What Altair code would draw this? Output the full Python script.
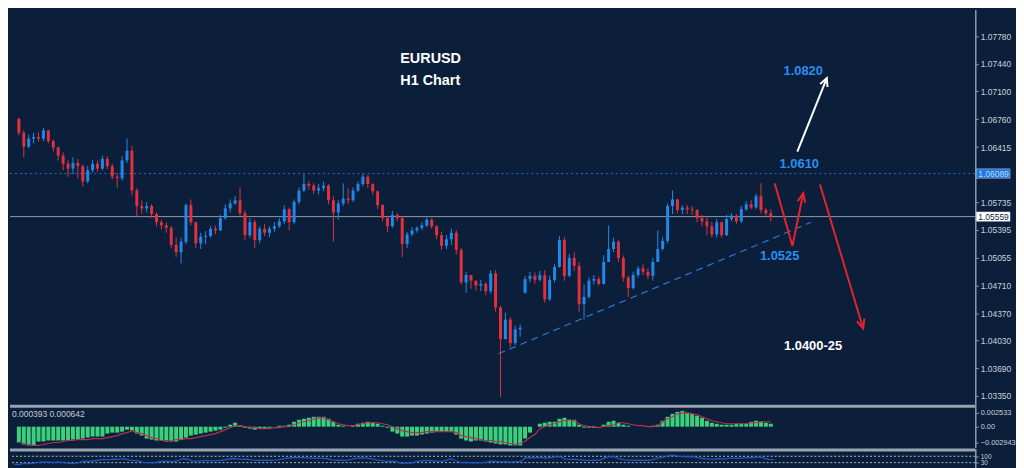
import altair as alt
import pandas as pd

# ---------------- data (EURUSD H1) ----------------
first_open = 1.0718
gap_opens = {105: 1.0462}

closes = [
    1.0692, 1.0676, 1.0659, 1.0642, 1.0652, 1.0654, 1.0652, 1.0662, 1.0649, 1.0641,
    1.0631, 1.0621, 1.0615, 1.0622, 1.0618, 1.0599, 1.0613, 1.0621, 1.0615, 1.0627,
    1.0618, 1.0605, 1.0603, 1.0625, 1.0637, 1.0588, 1.0569, 1.0566, 1.0569, 1.0559,
    1.0549, 1.0545, 1.0542, 1.0521, 1.0512, 1.0525, 1.0570, 1.0549, 1.0523, 1.0531,
    1.0532, 1.0541, 1.0539, 1.0554, 1.0566, 1.0572, 1.0576, 1.0560, 1.0533, 1.0549,
    1.0527, 1.0541, 1.0536, 1.0541, 1.0544, 1.0550, 1.0565, 1.0549, 1.0574, 1.0588,
    1.0596, 1.0594, 1.0588, 1.0591, 1.0594, 1.0576, 1.0561, 1.0572, 1.0578, 1.0576,
    1.0588, 1.0596, 1.0605, 1.0596, 1.0587, 1.0570, 1.0554, 1.0544, 1.0558, 1.0554,
    1.0522, 1.0534, 1.0539, 1.0542, 1.0545, 1.0552, 1.0544, 1.0533, 1.0520, 1.0528,
    1.0536, 1.0515, 1.0475, 1.0484, 1.0477, 1.0471, 1.0473, 1.0464, 1.0486, 1.0444,
    1.0405, 1.0429, 1.0400, 1.0417, 1.0419, 1.0479, 1.0483, 1.0478, 1.0484, 1.0454,
    1.0478, 1.0494, 1.0527, 1.0483, 1.0505, 1.0495, 1.0448, 1.0457, 1.0477, 1.0479,
    1.0473, 1.0500, 1.0516, 1.0525, 1.0505, 1.0481, 1.0468, 1.0484, 1.0492, 1.0488,
    1.0483, 1.0500, 1.0516, 1.0526, 1.0569, 1.0577, 1.0564, 1.0567, 1.0565, 1.0564,
    1.0554, 1.0550, 1.0544, 1.0534, 1.0549, 1.0533, 1.0553, 1.0557, 1.0550, 1.0565,
    1.0571, 1.0567, 1.0581, 1.0564, 1.0560, 1.05559,
]
highs = [
    1.0723, 1.0695, 1.0678, 1.0662, 1.0657, 1.0659, 1.0660, 1.0665, 1.0662, 1.0651,
    1.0642, 1.0635, 1.0625, 1.0629, 1.0627, 1.0620, 1.0618, 1.0626, 1.0625, 1.0631,
    1.0630, 1.0621, 1.0610, 1.0630, 1.0652, 1.0643, 1.0591, 1.0576, 1.0574, 1.0571,
    1.0561, 1.0552, 1.0549, 1.0544, 1.0530, 1.0530, 1.0572, 1.0577, 1.0549, 1.0536,
    1.0538, 1.0544, 1.0545, 1.0558, 1.0571, 1.0577, 1.0581, 1.0592, 1.0564, 1.0554,
    1.0552, 1.0544, 1.0547, 1.0544, 1.0549, 1.0554, 1.0570, 1.0567, 1.0577, 1.0592,
    1.0608, 1.0600, 1.0597, 1.0596, 1.0599, 1.0596, 1.0581, 1.0576, 1.0597, 1.0591,
    1.0592, 1.0599, 1.0609, 1.0607, 1.0597, 1.0588, 1.0571, 1.0557, 1.0563, 1.0560,
    1.0557, 1.0537, 1.0543, 1.0544, 1.0549, 1.0557, 1.0554, 1.0545, 1.0537, 1.0533,
    1.0541, 1.0539, 1.0517, 1.0488, 1.0484, 1.0477, 1.0478, 1.0475, 1.0490, 1.0490,
    1.0446, 1.0438, 1.0432, 1.0422, 1.0423, 1.0483, 1.0488, 1.0487, 1.0489, 1.0490,
    1.0483, 1.0498, 1.0532, 1.0531, 1.0510, 1.0512, 1.0500, 1.0472, 1.0481, 1.0484,
    1.0482, 1.0508, 1.0545, 1.0530, 1.0527, 1.0508, 1.0483, 1.0488, 1.0495, 1.0497,
    1.0492, 1.0505, 1.0539, 1.0531, 1.0572, 1.0588, 1.0578, 1.0570, 1.0570, 1.0569,
    1.0565, 1.0558, 1.0555, 1.0549, 1.0553, 1.0550, 1.0558, 1.0560, 1.0559, 1.0569,
    1.0575, 1.0576, 1.0584, 1.0597, 1.0567, 1.0565,
]
lows = [
    1.0689, 1.0671, 1.0656, 1.0629, 1.0640, 1.0646, 1.0648, 1.0649, 1.0646, 1.0636,
    1.0625, 1.0613, 1.0605, 1.0608, 1.0603, 1.0593, 1.0597, 1.0610, 1.0611, 1.0613,
    1.0614, 1.0602, 1.0591, 1.0600, 1.0622, 1.0582, 1.0555, 1.0559, 1.0561, 1.0554,
    1.0544, 1.0540, 1.0536, 1.0517, 1.0506, 1.0498, 1.0522, 1.0545, 1.0517, 1.0516,
    1.0522, 1.0530, 1.0534, 1.0538, 1.0552, 1.0561, 1.0570, 1.0557, 1.0527, 1.0530,
    1.0517, 1.0523, 1.0532, 1.0531, 1.0537, 1.0542, 1.0547, 1.0539, 1.0547, 1.0571,
    1.0586, 1.0589, 1.0584, 1.0583, 1.0587, 1.0571, 1.0525, 1.0552, 1.0569, 1.0571,
    1.0574, 1.0586, 1.0593, 1.0591, 1.0583, 1.0565, 1.0550, 1.0537, 1.0542, 1.0550,
    1.0506, 1.0517, 1.0532, 1.0536, 1.0539, 1.0543, 1.0541, 1.0528, 1.0515, 1.0516,
    1.0521, 1.0509, 1.0472, 1.0462, 1.0467, 1.0465, 1.0464, 1.0459, 1.0461, 1.0439,
    1.0334, 1.0405, 1.0395, 1.0398, 1.0408, 1.0461, 1.0475, 1.0473, 1.0476, 1.0450,
    1.0452, 1.0475, 1.0493, 1.0477, 1.0481, 1.0489, 1.0439, 1.0429, 1.0455, 1.0472,
    1.0471, 1.0472, 1.0500, 1.0512, 1.0500, 1.0476, 1.0457, 1.0466, 1.0481, 1.0484,
    1.0479, 1.0477, 1.0500, 1.0514, 1.0523, 1.0559, 1.0560, 1.0559, 1.0559, 1.0558,
    1.0549, 1.0544, 1.0533, 1.0530, 1.0530, 1.0530, 1.0532, 1.0550, 1.0547, 1.0548,
    1.0563, 1.0565, 1.0565, 1.0560, 1.0557, 1.0550,
]

# MACD (in points, 1 point = 0.00001)
macd_main_pts = [
    -216, -234, -288, -324, -342, -342, -270, -270, -252, -252,
    -252, -252, -252, -234, -234, -216, -198, -180, -180, -180,
    -126, -108, -108, -90, -54, -72, -126, -162, -216, -234,
    -252, -252, -270, -270, -270, -234, -198, -162, -144, -126,
    -108, -90, -72, -54, -18, 36, 72, 18, -18, -36,
    -54, -36, -36, -18, 0, 18, 18, 36, 90, 126,
    144, 162, 180, 180, 180, 144, 90, 36, 18, 0,
    18, 54, 72, 90, 72, 54, 18, -18, -90, -126,
    -180, -180, -162, -162, -144, -126, -108, -90, -90, -90,
    -90, -144, -216, -252, -270, -252, -252, -270, -288, -306,
    -324, -324, -342, -342, -342, -216, -108, 0, 54, 72,
    90, 90, 144, 162, 126, 126, 36, -18, -18, -18,
    0, 36, 90, 108, 72, 36, 18, 0, 0, 0,
    0, 18, 36, 108, 180, 234, 270, 288, 252, 234,
    198, 162, 108, 72, 54, 36, 36, 36, 54, 54,
    54, 90, 108, 90, 72, 54,
]
macd_signal_pts = [
    -198, -234, -270, -306, -324, -342, -342, -324, -306, -288,
    -288, -270, -252, -252, -234, -234, -234, -216, -216, -216,
    -198, -180, -162, -126, -108, -72, -108, -126, -162, -198,
    -216, -252, -252, -252, -234, -234, -216, -216, -198, -180,
    -162, -144, -126, -90, -54, -18, 18, 18, 0, -18,
    -18, -36, -36, -36, -18, -18, 0, 0, 36, 72,
    90, 108, 144, 162, 162, 126, 90, 54, 36, 18,
    18, 36, 54, 72, 72, 72, 54, 36, 0, -36,
    -72, -90, -108, -108, -108, -90, -90, -90, -90, -90,
    -90, -108, -162, -180, -198, -216, -234, -252, -252, -270,
    -270, -288, -306, -324, -306, -270, -198, -144, -36, 0,
    36, 54, 90, 108, 126, 108, 54, 18, 0, 0,
    -18, 0, 18, 36, 72, 72, 54, 36, 18, 18,
    0, 0, 18, 90, 144, 180, 234, 252, 252, 234,
    216, 180, 144, 108, 90, 72, 54, 54, 54, 54,
    54, 72, 72, 90, 90, 90,
]
rsi_values = [
    19, 18, 20, 17, 26, 24, 27, 32, 35, 33,
    31, 34, 30, 27, 24, 30, 40, 38, 42, 45,
    50, 48, 52, 51, 55, 47, 44, 42, 32, 30,
    28, 34, 40, 38, 36, 42, 56, 50, 40, 41,
    42, 44, 41, 43, 45, 50, 56, 54, 50, 52,
    46, 44, 46, 45, 44, 47, 52, 58, 62, 64,
    62, 60, 58, 59, 57, 56, 48, 45, 46, 44,
    50, 58, 60, 58, 55, 48, 42, 38, 40, 38,
    26, 28, 27, 36, 42, 44, 42, 40, 38, 44,
    55, 42, 30, 31, 30, 29, 30, 32, 40, 38,
    35, 36, 33, 36, 37, 60, 62, 60, 63, 58,
    62, 66, 68, 52, 50, 51, 48, 45, 44, 45,
    46, 60, 68, 66, 54, 48, 46, 45, 46, 44,
    45, 52, 62, 66, 75, 76, 70, 68, 67, 66,
    58, 55, 52, 50, 56, 52, 58, 58, 57, 60,
    62, 62, 66, 58, 50, 49,
]

price_ticks = [1.07780, 1.07440, 1.07100, 1.06760, 1.06415, 1.05735, 1.05395,
               1.05055, 1.04710, 1.04370, 1.04030, 1.03690, 1.03350]
resistance_level = 1.06089
last_price = 1.05559
macd_ticks = [253.3, 0, -294.3]
macd_readout = "0.000393 0.000642"
rsi_levels = [70, 30]

trend_i = [99.6, 163.2]
trend_p = [1.0387, 1.0549]

title_lines = ["EURUSD", "H1 Chart"]
title_i = [79.6, 79.6]
title_p = [1.0750, 1.0723]

blue_labels = ["1.0820", "1.0610", "1.0525"]
blue_i = [161.6, 160.8, 156.8]
blue_p = [1.0735, 1.0621, 1.0507]
white_label = ["1.0400-25"]
white_i = [163.6]
white_p = [1.0397]

white_arrow = {"seg": ["s", "s", "h", "h", "h"], "i": [160.4, 166.4, 165.06, 166.4, 166.54],
               "p": [1.06359, 1.07264, 1.07192, 1.07264, 1.07155]}
red_arrows = {"seg": ["v", "v", "v", "vh", "vh", "vh", "l", "l", "lh", "lh", "lh"],
              "i": [155.8, 159.4, 161.6, 160.46, 161.6, 162.02, 165.0, 173.8, 172.52, 173.8, 174.04],
              "p": [1.05968, 1.05197, 1.05846, 1.05748, 1.05846, 1.05728, 1.05956, 1.04182,
                    1.04273, 1.04182, 1.04302]}

# ---------------- frames ----------------
n = len(closes)
opens = [first_open] + closes[:-1]
for k, v in gap_opens.items():
    opens[k] = v
candles = pd.DataFrame({"i": list(range(n)), "open": opens, "high": highs,
                        "low": lows, "close": closes})
candles["dir"] = ["up" if c >= o else "down" for o, c in zip(opens, closes)]
ind = pd.DataFrame({"i": list(range(n)), "main": macd_main_pts,
                    "signal": macd_signal_pts, "rsi": rsi_values})

BG = "#0b1f3a"
W = 972
X_DOM = [1.2, 1.2 + W / 5]
FIRST_VISIBLE = "datum.i >= 2"   # bars left of the window are not drawn
XS = alt.Scale(domain=X_DOM, nice=False, zero=False)
PS = alt.Scale(domain=[1.03241, 1.08108], nice=False, zero=False)
MS = alt.Scale(domain=[-380, 398], nice=False, zero=False)
RS = alt.Scale(domain=[0, 118.75], nice=False, zero=False)
FONT = "Liberation Sans"
SEP = "#98a3b1"

PAX = alt.Axis(orient="right", values=price_ticks, format=".5f", title=None,
               grid=False, labelOverlap=False, labelFontSize=8.5)
MAX = alt.Axis(orient="right", values=macd_ticks, title=None, grid=False,
               labelOverlap=False, labelFontSize=7.4,
               labelExpr="datum.value == 0 ? '0.00' : format(datum.value / 100000, '.6f')")
RAX = alt.Axis(orient="right", values=rsi_levels, title=None, grid=False,
               labelOverlap=False, labelFontSize=6.5,
               labelExpr="datum.value == 70 ? '100' : '30'")


def xq(field="i"):
    return alt.X(f"{field}:Q", scale=XS, axis=None)


def py(field):
    return alt.Y(f"{field}:Q", scale=PS, axis=PAX, title=None)


def my(field):
    return alt.Y(f"{field}:Q", scale=MS, axis=MAX, title=None)


def ry(field):
    return alt.Y(f"{field}:Q", scale=RS, axis=RAX, title=None)


one = pd.DataFrame({"a": [0]})

# ---------------- price panel ----------------
cscale = alt.Scale(domain=["up", "down"], range=["#2287e8", "#e2303f"])
base = alt.Chart(candles).transform_filter(FIRST_VISIBLE)
wicks = base.mark_rule(strokeWidth=1).encode(
    x=xq(), y=py("low"), y2="high:Q",
    color=alt.Color("dir:N", scale=cscale, legend=None),
)
bodies = base.mark_bar(size=3).encode(
    x=xq(), y=py("open"), y2="close:Q",
    color=alt.Color("dir:N", scale=cscale, legend=None),
)
res_rule = alt.Chart(pd.DataFrame({"p": [resistance_level]})).mark_rule(
    color="#2c6cc0", strokeDash=[2, 3], strokeWidth=1).encode(y=py("p"))
last_rule = alt.Chart(pd.DataFrame({"p": [last_price]})).mark_rule(
    color="#8f99a6", strokeWidth=1).encode(y=py("p"))
trend = alt.Chart(pd.DataFrame({"i": trend_i, "p": trend_p})).mark_line(
    color="#2a78d6", strokeDash=[7, 5], strokeWidth=1.2).encode(x=xq(), y=py("p"))

wa = alt.Chart(pd.DataFrame(white_arrow).reset_index()).mark_line(
    color="#ffffff", strokeWidth=2).encode(
    x=xq(), y=py("p"), detail="seg:N", order="index:Q")
ra = alt.Chart(pd.DataFrame(red_arrows).reset_index()).mark_line(
    color="#e3232f", strokeWidth=2).encode(
    x=xq(), y=py("p"), detail="seg:N", order="index:Q")

titles = alt.Chart(pd.DataFrame({"t": title_lines, "i": title_i, "p": title_p})).mark_text(
    color="#ffffff", font=FONT, fontWeight="bold", fontSize=14.5, align="left",
    baseline="middle").encode(x=xq(), y=py("p"), text="t:N")
blue_txt = alt.Chart(pd.DataFrame({"t": blue_labels, "i": blue_i, "p": blue_p})).mark_text(
    color="#2a8ef0", font=FONT, fontWeight="bold", fontSize=13, align="center",
    baseline="middle").encode(x=xq(), y=py("p"), text="t:N")
white_txt = alt.Chart(pd.DataFrame({"t": white_label, "i": white_i, "p": white_p})).mark_text(
    color="#ffffff", font=FONT, fontWeight="bold", fontSize=13, align="center",
    baseline="middle").encode(x=xq(), y=py("p"), text="t:N")

tags = pd.DataFrame({
    "p": [resistance_level, last_price],
    "lo": [resistance_level - 0.00058, last_price - 0.00058],
    "hi": [resistance_level + 0.00058, last_price + 0.00058],
    "t": [f"{resistance_level:.5f}", f"{last_price:.5f}"],
    "bg": ["#1f78dc", "#ffffff"],
    "fg": ["#bcd9ff", "#0b1f3a"],
})
tag_box = alt.Chart(tags).mark_rect().encode(
    x=alt.value(W + 1), x2=alt.value(W + 35),
    y=py("lo"), y2="hi:Q",
    fill=alt.Fill("bg:N", scale=None), stroke=alt.value("#c8d0da"),
    strokeWidth=alt.value(0.5))
tag_txt = alt.Chart(tags).mark_text(font=FONT, fontSize=8.5, align="left",
                                    baseline="middle").encode(
    x=alt.value(W + 3), y=py("p"), text="t:N",
    color=alt.Color("fg:N", scale=None))

price = alt.layer(res_rule, last_rule, trend, wicks, bodies, wa, ra, titles,
                  blue_txt, white_txt, tag_box, tag_txt).properties(width=W, height=398)

# ---------------- MACD panel ----------------
ib = alt.Chart(ind).transform_filter(FIRST_VISIBLE)
hist = ib.mark_bar(size=4, color="#3bd07c").encode(
    x=xq(), y=my("main"), y2=alt.datum(0))
sig = ib.mark_line(color="#b53352", strokeWidth=1.2).encode(x=xq(), y=my("signal"))
sep2 = alt.Chart(one).mark_rule(color=SEP, strokeWidth=3).encode(
    x=alt.value(0), x2=alt.value(W), y=alt.value(1.5))
readout = alt.Chart(pd.DataFrame({"t": [macd_readout]})).mark_text(
    color="#c3cad4", font=FONT, fontSize=8.5, align="left", baseline="middle").encode(
    x=alt.value(2), y=alt.value(9), text="t:N")
macd = alt.layer(hist, sig, sep2, readout).properties(width=W, height=43)

# ---------------- RSI panel ----------------
lvl = alt.Chart(pd.DataFrame({"v": rsi_levels})).mark_rule(
    color="#aab3bf", strokeDash=[2, 2], strokeWidth=1).encode(y=ry("v"))
rsi_line = ib.mark_line(color="#1e55c8", strokeWidth=1.3).encode(x=xq(), y=ry("rsi"))
sep3 = alt.Chart(one).mark_rule(color=SEP, strokeWidth=3).encode(
    x=alt.value(0), x2=alt.value(W), y=alt.value(1.5))
rsi = alt.layer(lvl, rsi_line, sep3).properties(width=W, height=19)

chart = alt.vconcat(price, macd, rsi, spacing=0).properties(
    padding={"left": 0, "top": 0, "right": 0, "bottom": 0}, background=BG
).configure_view(strokeWidth=0, fill=BG).configure_axis(
    labelFont=FONT, labelColor="#c8d0da", tickColor="#8f9aa8",
    domainColor="#8f9aa8", tickSize=3, labelPadding=2, domainWidth=1.5
).configure_concat(spacing=0)

chart.save("out.html", embed_options={"renderer": "svg", "actions": False})
